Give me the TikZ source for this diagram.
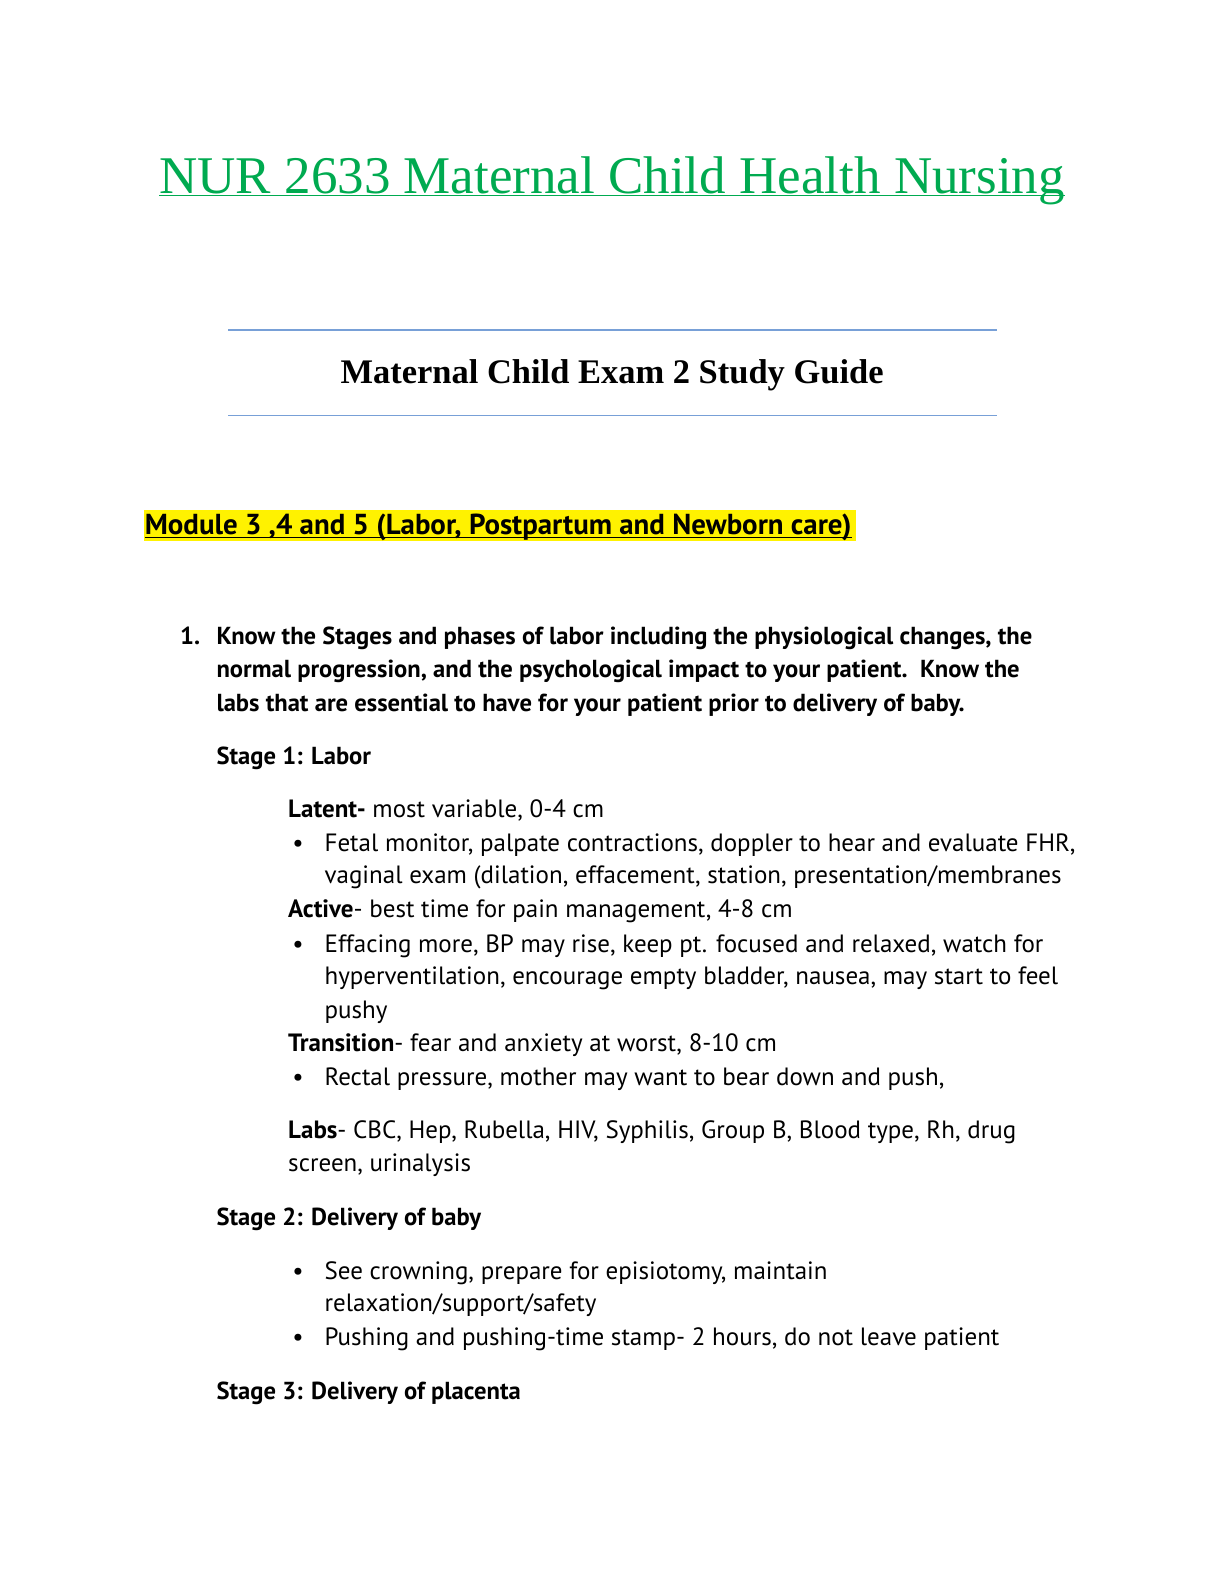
\documentclass[tikz,border=0pt]{standalone}
\usepackage{fontspec}
\setmainfont{PT Sans}
\newfontfamily\serifx{Liberation Serif}
\definecolor{tgreen}{RGB}{0,170,80}
\definecolor{rulec}{RGB}{120,160,215}
\begin{document}
\begin{tikzpicture}[x=0.5bp,y=-0.5bp,
  txt/.style={anchor=base west,inner sep=0pt,font=\fontsize{12.55}{14}\selectfont},
  bld/.style={txt,font=\fontsize{12.35}{14}\selectfont\bfseries}]
\useasboundingbox (0,0) rectangle (1224,1584);
\begin{scope}[xscale=1.01,yscale=1.016]
\node[anchor=base,inner sep=0pt,text=tgreen,font=\serifx\fontsize{26.6}{32}\selectfont] (title) at (606,190) {\underbar{NUR 2633 Maternal Child Health Nursing}};
\draw[rulec,line width=0.8pt] (226,325) -- (987,325);
\draw[rulec,line width=0.8pt] (226,409) -- (987,409);
\node[anchor=base,inner sep=0pt,font=\serifx\fontsize{17.3}{20}\selectfont\bfseries] (sub) at (606,377) {Maternal Child Exam 2 Study Guide};
\fill[yellow] (143,502) rectangle (848,532);
\node[bld,font=\fontsize{14.5}{16}\selectfont\bfseries] (mod) at (143,526) {\underbar{Module 3 ,4 and 5 (Labor, Postpartum and Newborn care)}};
\node[bld] (n1) at (178,634) {1.};
\node[bld] (q1) at (214,634) {Know the Stages and phases of labor including the physiological changes, the};
\node[bld] (q2) at (214,667) {normal progression, and the psychological impact to your patient.\ \ Know the};
\node[bld] (q3) at (214,700) {labs that are essential to have for your patient prior to delivery of baby.};
\node[bld] (s1) at (214,752) {Stage 1: Labor};
\node[txt] (lat) at (285,805) {\textbf{Latent-} most variable, 0-4 cm};
\foreach \yy/\t in {838/{Fetal monitor, palpate contractions, doppler to hear and evaluate FHR,},937/{Effacing more, BP may rise, keep pt. focused and relaxed, watch for},1068/{Rectal pressure, mother may want to bear down and push,},1259/{See crowning, prepare for episiotomy, maintain},1324/{Pushing and pushing-time stamp- 2 hours, do not leave patient}}
  {\node[txt] at (289,\yy) {•}; \node[txt] at (321,\yy) {\t};}
\node[txt] (l2) at (321,870) {vaginal exam (dilation, effacement, station, presentation/membranes};
\node[txt] (act) at (285,903) {\textbf{Active}- best time for pain management, 4-8 cm};
\node[txt] (e2) at (321,969) {hyperventilation, encourage empty bladder, nausea, may start to feel};
\node[txt] (e3) at (321,1002) {pushy};
\node[txt] (tr) at (285,1035) {\textbf{Transition}- fear and anxiety at worst, 8-10 cm};
\node[txt] (lab) at (285,1121) {\textbf{Labs}- CBC, Hep, Rubella, HIV, Syphilis, Group B, Blood type, Rh, drug};
\node[txt] (lab2) at (285,1153) {screen, urinalysis};
\node[bld] (s2) at (214,1206) {Stage 2: Delivery of baby};
\node[txt] (c2) at (321,1291) {relaxation/support/safety};
\node[bld] (s3) at (214,1377) {Stage 3: Delivery of placenta};
\end{scope}
\end{tikzpicture}
\end{document}
